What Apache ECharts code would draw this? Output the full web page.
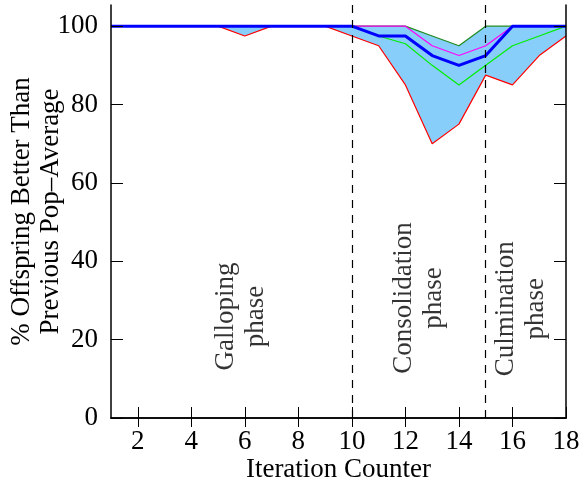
<!DOCTYPE html>
<html>
<head>
<meta charset="utf-8">
<script src="https://cdn.jsdelivr.net/npm/echarts@6/dist/echarts.min.js"></script>
<style>
  html, body { margin: 0; padding: 0; background: #fff; }
  #chart { width: 584px; height: 486px; }
</style>
</head>
<body>
<div id="chart"></div>
<script>
// % offspring better than previous population average, per iteration
const iters     = [1, 2, 3, 4, 5, 6, 7, 8, 9, 10, 11, 12, 13, 14, 15, 16, 17, 18];
const minVals   = [100, 100, 100, 100, 100, 97.5, 100, 100, 100, 97.5, 95, 85, 70, 75, 87.5, 85, 92.5, 97.5];
const lowVals   = [100, 100, 100, 100, 100, 100, 100, 100, 100, 100, 97.5, 95.5, 90, 85, 90, 95, 97.5, 100];
const highVals  = [100, 100, 100, 100, 100, 100, 100, 100, 100, 100, 100, 100, 95, 92.5, 95, 100, 100, 100];
const maxVals   = [100, 100, 100, 100, 100, 100, 100, 100, 100, 100, 100, 100, 97.5, 95, 100, 100, 100, 100];
const meanVals  = [100, 100, 100, 100, 100, 100, 100, 100, 100, 100, 97.5, 97.5, 92.5, 90, 92.5, 100, 100, 100];

const phaseBounds = [10, 15];
const xTicks = [2, 4, 6, 8, 10, 12, 14, 16, 18];
const yTicks = [0, 20, 40, 60, 80, 100];

const annoText = ['Galloping\nphase', 'Consolidation\nphase', 'Culmination\nphase'];
const annoX    = [5.87, 12.5, 16.3];
const annoY    = [25.9, 30.6, 27.9];

const FONT = '"Liberation Serif", "DejaVu Serif", serif';
const FS = 27;
const pair = arr => iters.map((x, i) => [x, arr[i]]);

const chart = echarts.init(document.getElementById('chart'), null, { renderer: 'canvas' });

// axes sit above the area fills so the inward ticks stay visible
const frameAxis = {
  z: 10,
  axisLine: { show: true, lineStyle: { color: '#000', width: 1.5 } },
  splitLine: { show: false },
};

chart.setOption({
  backgroundColor: '#fff', animation: false,
  grid: { left: 111, right: 18, top: 5, bottom: 68, outerBoundsMode: 'none' },
  xAxis: [
    {
      ...frameAxis, type: 'value', min: 1, max: 18, position: 'bottom',
      name: 'Iteration Counter', nameLocation: 'middle', nameGap: 38, nameMoveOverlap: false,
      nameTextStyle: { fontFamily: FONT, fontSize: FS, color: '#000' },
      axisTick: { inside: true, length: 11, customValues: xTicks, lineStyle: { color: '#000' } },
      axisLabel: { customValues: xTicks, margin: 10, fontFamily: FONT, fontSize: FS, color: '#000' },
    },
    {
      ...frameAxis, type: 'value', min: 1, max: 18, position: 'top',
      axisTick: { inside: true, length: 9, customValues: xTicks.slice(0, -1), lineStyle: { color: '#000' } },
      axisLabel: { show: false },
    },
  ],
  yAxis: [
    {
      ...frameAxis, type: 'value', min: 0, max: 105.4, position: 'left',
      name: '% Offspring Better Than\nPrevious Pop\u2013Average', nameLocation: 'middle', nameGap: 46,
      nameMoveOverlap: false,
      nameTextStyle: { fontFamily: FONT, fontSize: FS, color: '#000', lineHeight: 29 },
      axisTick: { inside: true, length: 12, customValues: yTicks, lineStyle: { color: '#000' } },
      axisLabel: { customValues: yTicks, margin: 13, fontFamily: FONT, fontSize: FS, color: '#000' },
    },
    {
      ...frameAxis, type: 'value', min: 0, max: 105.4, position: 'right',
      axisTick: { inside: true, length: 12, customValues: yTicks, lineStyle: { color: '#000' } },
      axisLabel: { show: false },
    },
  ],
  series: [
    // min..max band: fill under max in blue, then blank out under min
    {
      type: 'line', data: pair(maxVals), symbol: 'none', silent: true, z: 1,
      lineStyle: { width: 0 }, areaStyle: { color: '#87cefa', opacity: 1, origin: 'start' },
    },
    {
      type: 'line', data: pair(minVals), symbol: 'none', silent: true, z: 1,
      lineStyle: { width: 0 }, areaStyle: { color: '#ffffff', opacity: 1, origin: 'start' },
    },
    { name: 'min',  type: 'line', data: pair(minVals),  symbol: 'none', lineStyle: { color: '#ff0000', width: 1.2 }, z: 3 },
    { name: 'max',  type: 'line', data: pair(maxVals),  symbol: 'none', lineStyle: { color: '#1e8b1e', width: 1.2 }, z: 3 },
    { name: 'low',  type: 'line', data: pair(lowVals),  symbol: 'none', lineStyle: { color: '#00ee00', width: 1.2 }, z: 3 },
    { name: 'high', type: 'line', data: pair(highVals), symbol: 'none', lineStyle: { color: '#ff00ff', width: 1.2 }, z: 3 },
    {
      name: 'mean', type: 'line', data: pair(meanVals), symbol: 'none',
      lineStyle: { color: '#0000ff', width: 3 }, z: 4,
      markLine: {
        silent: true, symbol: 'none', label: { show: false },
        lineStyle: { color: '#000', type: [8, 7], width: 1.2 },
        data: phaseBounds.map(x => ({ xAxis: x })),
      },
    },
    {
      type: 'scatter', symbolSize: 0, z: 5, silent: true,
      data: annoX.map((x, i) => ({ value: [x, annoY[i]], name: annoText[i] })),
      label: {
        show: true, position: 'inside', rotate: 90, formatter: p => p.name,
        align: 'center', verticalAlign: 'middle',
        fontFamily: FONT, fontSize: FS, color: '#000', lineHeight: 30,
      },
    },
  ],
});
</script>
</body>
</html>
